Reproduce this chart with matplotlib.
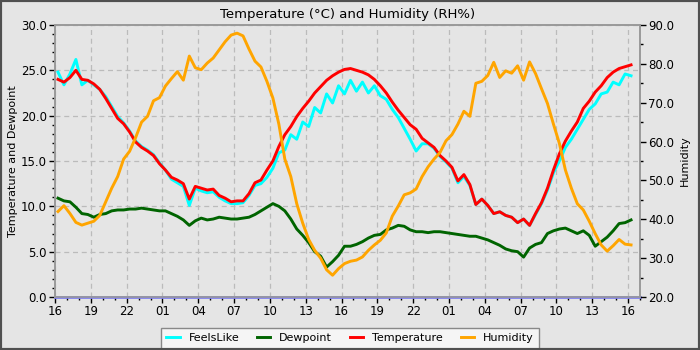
import numpy as np
import pandas as pd
import matplotlib
matplotlib.use("Agg")
import matplotlib.pyplot as plt
import matplotlib.dates as mdates
from matplotlib.ticker import MultipleLocator, FormatStrFormatter
from matplotlib.patches import Rectangle

times = pd.date_range("2024-05-01 16:15", periods=97, freq="30min")

feels_like = [24.8, 23.4, 24.6, 26.2, 23.4, 23.9, 23.4, 22.9, 22.1, 21.0,
              19.9, 19.2, 18.3, 17.2, 16.6, 16.2, 15.7, 14.8, 14.0, 13.0,
              12.6, 12.2, 10.1, 12.0, 11.7, 11.5, 11.6, 11.0, 10.6, 10.3,
              10.3, 10.4, 11.2, 12.3, 12.5, 13.2, 14.2, 15.9, 16.2, 17.9,
              17.4, 19.3, 18.8, 20.9, 20.3, 22.4, 21.4, 23.3, 22.4, 23.9,
              22.7, 23.7, 22.5, 23.3, 22.2, 21.8, 20.7, 19.8, 18.6, 17.4,
              16.1, 16.9, 16.9, 16.4, 15.5, 14.9, 14.2, 12.6, 13.3, 12.3,
              10.2, 10.8, 10.1, 9.2, 9.4, 9.0, 8.8, 8.2, 8.6, 7.9,
              9.1, 10.3, 11.8, 13.7, 15.0, 16.5, 17.4, 18.5, 19.6, 20.7,
              21.3, 22.4, 22.6, 23.7, 23.4, 24.6, 24.4]

dewpoint = [10.9, 10.6, 10.5, 9.9, 9.2, 9.1, 8.8, 9.1, 9.2, 9.5,
            9.6, 9.6, 9.7, 9.7, 9.8, 9.7, 9.6, 9.5, 9.5, 9.2,
            8.9, 8.5, 7.9, 8.4, 8.7, 8.5, 8.6, 8.8, 8.7, 8.6,
            8.6, 8.7, 8.8, 9.1, 9.5, 9.9, 10.3, 10.0, 9.5, 8.6,
            7.5, 6.8, 6.0, 5.0, 4.5, 3.3, 3.9, 4.6, 5.6, 5.6,
            5.8, 6.1, 6.5, 6.8, 6.9, 7.4, 7.6, 7.9, 7.8, 7.4,
            7.2, 7.2, 7.1, 7.2, 7.2, 7.1, 7.0, 6.9, 6.8, 6.7,
            6.7, 6.5, 6.3, 6.0, 5.7, 5.3, 5.1, 5.0, 4.4, 5.4,
            5.8, 6.0, 7.0, 7.3, 7.5, 7.6, 7.3, 7.0, 7.3, 6.8,
            5.6, 6.1, 6.6, 7.3, 8.1, 8.2, 8.5]

temperature = [24.0, 23.7, 24.2, 25.0, 24.0, 23.9, 23.5, 22.9, 21.9, 20.8,
               19.7, 19.1, 18.2, 17.1, 16.5, 16.1, 15.6, 14.7, 14.0, 13.2,
               12.9, 12.5, 10.8, 12.2, 12.0, 11.8, 11.9, 11.2, 10.9, 10.5,
               10.6, 10.6, 11.4, 12.6, 12.9, 14.0, 15.0, 16.6, 17.9, 18.8,
               19.9, 20.8, 21.6, 22.5, 23.2, 23.9, 24.4, 24.8, 25.1, 25.2,
               25.0, 24.8, 24.5, 24.0, 23.3, 22.5, 21.5, 20.6, 19.8, 19.0,
               18.5, 17.5, 17.0, 16.5, 15.6, 15.0, 14.3, 12.8, 13.5, 12.4,
               10.2, 10.8, 10.1, 9.2, 9.4, 9.0, 8.8, 8.2, 8.6, 7.9,
               9.2, 10.4, 12.0, 14.0, 15.8, 17.2, 18.3, 19.3, 20.8, 21.6,
               22.6, 23.3, 24.2, 24.8, 25.2, 25.4, 25.6]

humidity = [42.0, 43.5, 41.5, 39.2, 38.5, 39.0, 39.5, 41.0, 44.5, 48.0,
            51.0, 55.5, 57.5, 61.0, 65.0, 66.5, 70.5, 71.3, 74.3, 76.2,
            78.0, 75.8, 82.0, 79.0, 78.5, 80.2, 81.5, 83.6, 85.7, 87.4,
            87.9, 87.2, 83.8, 80.7, 79.2, 75.5, 71.2, 64.5, 55.5, 51.0,
            44.0, 39.0, 34.8, 32.0, 30.0, 27.0, 25.6, 27.3, 28.6, 29.2,
            29.5, 30.3, 32.0, 33.4, 34.6, 36.5, 40.8, 43.4, 46.3, 46.8,
            47.8, 51.0, 53.5, 55.5, 57.2, 60.2, 61.8, 64.5, 67.8, 66.5,
            75.0, 75.5, 77.0, 80.4, 76.5, 78.2, 77.6, 79.5, 75.8, 80.5,
            77.5, 73.6, 69.8, 64.5, 59.5, 52.7, 48.0, 44.0, 42.4, 39.5,
            36.3, 33.4, 31.8, 33.2, 34.8, 33.6, 33.4]

bg = "#e5e5e5"
fig = plt.figure(figsize=(7, 3.5), dpi=100, facecolor=bg)
ax = fig.add_axes([55/700, 53/350, 585/700, 272/350], facecolor=bg)
ax2 = ax.twinx()

lw = 2.1
l1, = ax.plot(times, feels_like, color="#00ffff", lw=lw, label="FeelsLike")
l2, = ax.plot(times, dewpoint, color="#006400", lw=lw, label="Dewpoint")
l3, = ax.plot(times, temperature, color="#ff0000", lw=lw, label="Temperature")
l4, = ax2.plot(times, humidity, color="#ffa500", lw=lw, label="Humidity")
ax.axhline(0, color="#8080f0", lw=2, zorder=5, clip_on=False)

x0 = pd.Timestamp("2024-05-01 16:00")
ax.set_xlim(x0, x0 + pd.Timedelta(hours=49))
ax.set_ylim(0, 30)
ax2.set_ylim(20, 90)

ax.xaxis.set_major_locator(mdates.HourLocator(byhour=range(1, 24, 3)))
ax.xaxis.set_minor_locator(mdates.HourLocator())
ax.xaxis.set_major_formatter(mdates.DateFormatter("%H"))
ax.yaxis.set_major_locator(MultipleLocator(5))
ax.yaxis.set_minor_locator(MultipleLocator(1))
ax.yaxis.set_major_formatter(FormatStrFormatter("%.1f"))
ax2.yaxis.set_major_locator(MultipleLocator(10))
ax2.yaxis.set_minor_locator(MultipleLocator(5))
ax2.yaxis.set_major_formatter(FormatStrFormatter("%.1f"))

for a in (ax, ax2):
    a.tick_params(which="major", length=4, width=1, labelsize=8.5, color="black", pad=2)
    a.tick_params(which="minor", length=2, width=1, color="black")
    for s in a.spines.values():
        s.set_color("#999999")
        s.set_linewidth(1.2)

ax.grid(True, which="major", color="#bbbbbb", linestyle=(0, (4, 3)), linewidth=0.9)
ax.set_axisbelow(True)

ax.set_ylabel("Temperature and Dewpoint", fontsize=8, labelpad=2)
ax2.set_ylabel("Humidity", fontsize=8, labelpad=4)
ax.set_title("Temperature (°C) and Humidity (RH%)", fontsize=9.5, pad=5)

leg = fig.legend([l1, l2, l3, l4], ["FeelsLike", "Dewpoint", "Temperature", "Humidity"],
                 loc="lower center", bbox_to_anchor=(0.5, -0.012), ncol=4,
                 fontsize=8, frameon=True, fancybox=False, handlelength=1.2,
                 columnspacing=1.6, handletextpad=0.8, borderpad=0.5)
leg.get_frame().set_facecolor("#f5f5f5")
leg.get_frame().set_edgecolor("#888888")
leg.get_frame().set_alpha(1)

fig.patches.append(Rectangle((0, 0), 1, 1, transform=fig.transFigure, fill=False,
                             edgecolor="#505050", linewidth=3, zorder=10))

fig.savefig("out.png", dpi=100, facecolor=bg)
